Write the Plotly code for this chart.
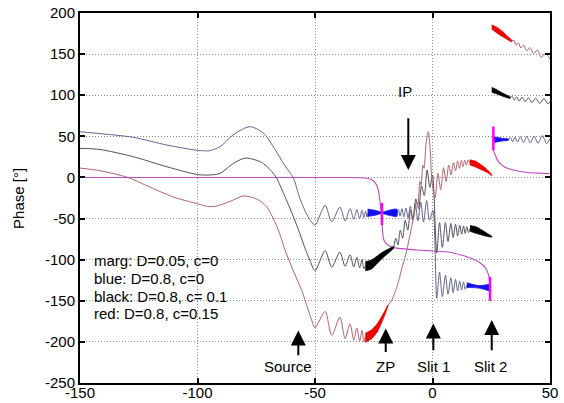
import plotly.graph_objects as go

# ---------------- data ----------------
# blue curve: D=0.8, c=0
blue_x1 = [-150, -141.5, -127.3, -113, -100, -95, -90.4, -84.9, -77.7, -72, -67, -63, -59.3, -56.5, -53.5, -51.5, -50,
           -45.7, -42.9, -39.4, -37.2, -35.1, -33.5, -32.2, -31, -30, -29.2, -28.5, -27.9, -27.4]
blue_y1 = [55.6, 53.3, 48.8, 39.4, 33, 32.5, 37.4, 51.6, 61.7, 54, 34, 15, 0, -25, -45, -54, -58,
           -34, -54, -36, -53, -38, -51, -39, -50, -40, -49, -41, -48, -43]
blue_wx1 = [-27.6, -24.5, -21.5, -18.5, -15.2]
blue_wy1 = [-43, -43, -43, -43, -43]
blue_wh1 = [4.5, 3, 0.8, 3, 4.5]
blue_x2 = [-15.2, -14.5, -13.8, -13, -12.2, -11.3, -10.4, -9.4, -8.4, -7.3, -6.2, -5, -3.8, -2.5, -1.3, 0.2,
           1.8, 3, 4.2, 5.5, 6.6, 7.8, 8.8, 9.8, 10.7, 11.6, 12.4, 13.2, 13.9, 14.6]
blue_y2 = [-43, -39, -47, -38, -48, -37, -49, -35, -51, -32, -53, -30, -54, -28, -52, -40,
           -147, -115, -145, -119, -142, -122, -140, -124, -138, -126, -137, -127, -136, -131]
blue_wx2 = [14.6, 17, 19.5, 22, 24.5]
blue_wy2 = [-131, -132, -133, -133.5, -134]
blue_wh2 = [3, 2, 1.5, 2.5, 4]
blue_wx3 = [25.9, 28, 30, 32.3]
blue_wy3 = [46, 46, 46, 46]
blue_wh3 = [3.5, 2.5, 1.5, 0.8]
blue_x3 = [32.3, 33.2, 34.1, 35.1, 36.2, 37.4, 38.7, 40.1, 41.6, 43.2, 44.9, 46.7, 48.6, 50]
blue_y3 = [46, 48.5, 43.5, 49, 43, 49.5, 42.5, 50, 42, 50.5, 41.5, 51, 41, 47]

# black curve: D=0.8, c=0.1
black_x1 = [-150, -141.5, -127.3, -113, -100, -95, -90.4, -84.8, -79.8, -75, -72, -69, -66.5, -63, -60, -57, -54, -52, -50,
            -45.7, -42.9, -39.4, -37.2, -35.1, -33.5, -32.2, -31, -30, -29.2, -28.6]
black_y1 = [35.4, 34, 25.2, 13, 3.5, 3, 4.9, 17, 23.5, 21, 17, 9, 0, -22, -42, -64, -88, -102, -113.5,
            -89, -109, -91, -108, -94, -109, -97, -110, -100, -111, -108]
black_wx1 = [-28.6, -26, -23.5, -21, -18.5, -16.5]
black_wy1 = [-108, -106, -100, -94, -89, -85]
black_wh1 = [5.5, 5.5, 4.5, 3.5, 2.2, 1]
black_x2 = [-16.5, -15.6, -14.7, -13.7, -12.7, -11.6, -10.5, -9.4, -8.3, -7.1, -5.9, -4.7, -3.5, -2.3, -1.1, 0.0,
            1.8, 3, 4.2, 5.5, 6.6, 7.8, 8.8, 9.8, 10.7, 11.6, 12.4, 13.2, 13.9, 14.6, 15.3, 16]
black_y2 = [-85, -74, -82, -64, -74, -52, -64, -40, -52, -26, -38, -10, -22, 9, -12, 3,
            -92, -55, -85, -55, -78, -56, -73, -57, -71, -58, -69, -59, -68, -60, -67, -62]
black_wx2 = [16, 18.5, 21, 23, 25.2]
black_wy2 = [-62, -64, -67, -69.5, -72]
black_wh2 = [3.5, 4, 3, 2, 0.5]
black_wx3 = [25.2, 27.5, 30, 33]
black_wy3 = [106.5, 104, 100.5, 97]
black_wh3 = [3, 2.5, 1.8, 0.8]
black_x3 = [33, 33.9, 34.8, 35.8, 36.9, 38.1, 39.4, 40.8, 42.3, 43.9, 45.6, 47.4, 49.2, 50]
black_y3 = [97, 98.5, 94, 98, 93, 97.5, 92, 97, 91, 96.5, 90, 96, 89.5, 92]

# red curve: D=0.8, c=0.15
red_x1 = [-150, -141.5, -129.6, -121.6, -110, -100, -95, -91.8, -86, -80.5, -75, -70.6, -65.6, -62.8, -59, -55.7, -53, -51, -50,
          -45.7, -42.9, -39.4, -37.2, -35.1, -33.5, -32.2, -31, -30, -29.2, -28.6]
red_y1 = [11.4, 8.2, 0, -10, -24, -32, -35.5, -34.8, -29, -22.6, -26, -35.6, -64, -88, -115, -137, -160, -177, -183,
          -163, -192, -170, -196, -178, -198, -183, -199, -186, -200, -194]
red_wx1 = [-28.6, -26, -23.5, -21.5, -20, -19]
red_wy1 = [-195, -191, -183, -172, -163, -156]
red_wh1 = [5.5, 5.5, 5, 3.5, 2, 0.8]
red_x2 = [-19, -17.5, -16, -14.5, -13, -11.5, -10.3, -9, -7.5, -6.8, -6.2, -5.4, -4.9, -4.1, -3.6, -2.8, -1.8, -1.0, -0.4,
          0.3, 1.1, 2.3, 3.5, 4.7, 5.8, 6.9, 7.9, 8.9, 9.8, 10.7, 11.5, 12.3, 13, 13.7, 14.4, 15.1, 15.8]
red_y2 = [-156, -150, -140, -127, -110, -95, -80, -62, -40, -30, -33, -5, -9, 15, 11, 40, 55.6, 35, 1,
          -15, -25, 5, -15, 12, -5, 15, 3, 18, 8, 20, 11, 21, 13, 21, 15, 21, 18]
red_wx2 = [15.8, 18.5, 21, 23.2, 25.2]
red_wy2 = [18.5, 16, 12, 8, 3]
red_wh2 = [3, 3.5, 2.8, 1.8, 0.5]
red_wx3 = [25.2, 27.5, 30, 32, 33.7]
red_wy3 = [183, 179, 174, 169.5, 166]
red_wh3 = [2.5, 3.5, 3, 2, 1]
red_x3 = [33.7, 34.6, 35.5, 36.5, 37.6, 38.8, 40.1, 41.5, 43, 44.6, 46.3, 48.1, 50]
red_y3 = [166, 167, 161, 164, 157.5, 161, 154, 158, 150.5, 155, 146, 151, 144]

# marginal curve: D=0.05, c=0
marg_x1 = [-150, -40, -30, -28, -26, -24.5, -23.2, -22.4, -21.8, -21.3, -20.9, -20, -18.8, -17, -15.2, -10, -5, 0,
           7.4, 13, 17, 20, 22.3, 23.8, 24.5]
marg_y1 = [0, 0, -0.3, -1, -2.5, -6, -14, -27.5, -45, -63, -74, -79.5, -82.5, -85, -86, -87.5, -88.5, -89.5,
           -91, -95, -99, -103.5, -109, -118, -133]
marg_x2 = [25.9, 26.6, 27.5, 28.7, 30.5, 32.5, 34.4, 37, 41.5, 45, 50]
marg_y2 = [33, 28, 22, 17, 13, 10.5, 9, 7.5, 5.7, 5.2, 4.5]
marg_tick_x = [-21.5, 24.5, 25.9]
marg_tick_y0 = [-31, -121, 62]
marg_tick_y1 = [-58, -150, 33]

legend_lines = ["marg: D=0.05, c=0", "blue: D=0.8, c=0", "black: D=0.8, c= 0.1", "red: D=0.8, c=0.15"]
legend_y = [-101.3, -122.8, -144.3, -165.3]

marker_labels = ["Source", "ZP", "Slit 1", "Slit 2"]
marker_x = [-57.1, -19.9, 0.35, 25.2]
marker_label_x = [-61.4, -20.2, 0.35, 24.5]
marker_head_y = [-186, -183.6, -177.5, -173.5]
marker_tail_y = [-218, -214, -212, -212]
ip_x, ip_head_y, ip_tail_y = -10.3, 9, 73.8

x_ticks = [-150, -100, -50, 0, 50]
y_ticks = [-250, -200, -150, -100, -50, 0, 50, 100, 150, 200]

# ---------------- styles ----------------
C_BLUE_THIN = "#64648f"
C_BLACK_THIN = "#50505e"
C_RED_THIN = "#b46470"
C_MARG = "#c048c0"
FONT = "Liberation Sans, Arial, sans-serif"

fig = go.Figure()


def thin(x, y, color, width=1.0, shape="spline"):
    fig.add_trace(go.Scatter(x=x, y=y, mode="lines", hoverinfo="skip",
                             line=dict(color=color, width=width, shape=shape, smoothing=0.8)))


def wedge(xs, ys, hs, color):
    up = [y + h for y, h in zip(ys, hs)]
    lo = [y - h for y, h in zip(ys, hs)]
    fig.add_trace(go.Scatter(x=list(xs) + list(xs)[::-1], y=up + lo[::-1], mode="lines",
                             fill="toself", fillcolor=color, hoverinfo="skip",
                             line=dict(color=color, width=0.8, shape="spline", smoothing=0.6)))


thin(marg_x1, marg_y1, C_MARG, 1.1)
thin(marg_x2, marg_y2, C_MARG, 1.1)

thin(blue_x1, blue_y1, C_BLUE_THIN)
thin(blue_x2, blue_y2, C_BLUE_THIN)
thin(blue_x3, blue_y3, C_BLUE_THIN)
thin(black_x1, black_y1, C_BLACK_THIN)
thin(black_x2, black_y2, C_BLACK_THIN)
thin(black_x3, black_y3, C_BLACK_THIN)
thin(red_x1, red_y1, C_RED_THIN)
thin(red_x2, red_y2, C_RED_THIN)
thin(red_x3, red_y3, C_RED_THIN)

wedge(blue_wx1, blue_wy1, blue_wh1, "#1010f0")
wedge(blue_wx2, blue_wy2, blue_wh2, "#1010f0")
wedge(blue_wx3, blue_wy3, blue_wh3, "#1010f0")
wedge(black_wx1, black_wy1, black_wh1, "#000000")
wedge(black_wx2, black_wy2, black_wh2, "#000000")
wedge(black_wx3, black_wy3, black_wh3, "#000000")
wedge(red_wx1, red_wy1, red_wh1, "#ee0000")
wedge(red_wx2, red_wy2, red_wh2, "#ee0000")
wedge(red_wx3, red_wy3, red_wh3, "#ee0000")

for tx, t0, t1 in zip(marg_tick_x, marg_tick_y0, marg_tick_y1):
    thin([tx, tx], [t0, t1], "#ff00ff", 2.5, "linear")

annotations = []
for txt, yy in zip(legend_lines, legend_y):
    annotations.append(dict(x=-145, y=yy, xref="x", yref="y", text=txt, showarrow=False,
                            xanchor="left", yanchor="middle", font=dict(size=15, color="black", family=FONT)))
for lab, ax_, lx, hy, ty in zip(marker_labels, marker_x, marker_label_x, marker_head_y, marker_tail_y):
    annotations.append(dict(x=ax_, y=hy, ax=ax_, ay=ty, xref="x", yref="y", axref="x", ayref="y",
                            text="", showarrow=True, arrowhead=2, arrowsize=1.5, arrowwidth=2,
                            arrowcolor="black"))
    annotations.append(dict(x=lx, y=-230, xref="x", yref="y", text=lab, showarrow=False,
                            xanchor="center", yanchor="middle", font=dict(size=15, color="black", family=FONT)))
annotations.append(dict(x=ip_x, y=ip_head_y, ax=ip_x, ay=ip_tail_y, xref="x", yref="y", axref="x", ayref="y",
                        text="", showarrow=True, arrowhead=2, arrowsize=1.5, arrowwidth=2, arrowcolor="black"))
annotations.append(dict(x=-11.7, y=104, xref="x", yref="y", text="IP", showarrow=False,
                        xanchor="center", yanchor="middle", font=dict(size=15, color="black", family=FONT)))
annotations.append(dict(x=-0.132, y=0.5, xref="paper", yref="paper", text="Phase [°]", showarrow=False,
                        textangle=-90, xanchor="center", yanchor="middle",
                        font=dict(size=15, color="black", family=FONT)))

axis_common = dict(showline=True, linewidth=2, linecolor="black", mirror="ticks", ticks="inside",
                   ticklen=5, tickwidth=1.5, tickcolor="black", showgrid=True, gridcolor="#8a8a8a",
                   gridwidth=1, griddash="1px,2px", zeroline=False, automargin=False,
                   tickfont=dict(size=15, color="black", family=FONT))

fig.update_layout(
    width=564, height=403, template="none",
    margin=dict(l=80, r=14, t=13, b=20),
    paper_bgcolor="white", plot_bgcolor="white",
    showlegend=False,
    xaxis=dict(range=[-150, 50], tickvals=x_ticks, ticktext=[str(v) for v in x_ticks],
               ticklabelstandoff=-5, **axis_common),
    yaxis=dict(range=[-250, 200], tickvals=y_ticks, ticktext=[str(v) for v in y_ticks], **axis_common),
    annotations=annotations,
)

fig.write_html("out.html", config={"displayModeBar": False},
               post_script="document.body.style.margin='0px';document.body.style.overflow='hidden';")
